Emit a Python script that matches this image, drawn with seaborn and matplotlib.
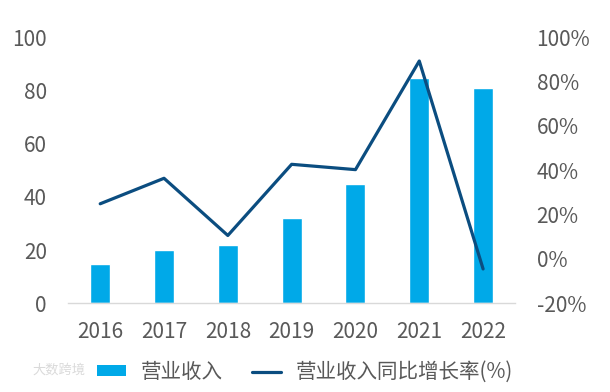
import numpy as np
import pandas as pd
import matplotlib
matplotlib.use("Agg")
import matplotlib.pyplot as plt
import seaborn as sns
from matplotlib.patches import Patch
from matplotlib.lines import Line2D

years = ["2016", "2017", "2018", "2019", "2020", "2021", "2022"]
revenue = [14.6, 20.2, 22.0, 31.9, 44.7, 84.7, 80.9]
growth = [24.9, 36.4, 10.6, 42.7, 40.3, 89.3, -4.5]
left_ticks = [0, 20, 40, 60, 80, 100]
right_ticks = [-20, 0, 20, 40, 60, 80, 100]
bar_label = "营业收入"
line_label = "营业收入同比增长率(%)"

sns.set_theme(style="white")
plt.rcParams["font.family"] = ["Noto Sans CJK SC", "DejaVu Sans"]

BAR_C = "#00A9E8"
LINE_C = "#0B4D80"
TXT_C = "#595959"

df = pd.DataFrame({"year": years, "revenue": revenue, "growth": growth})
df["pos"] = np.arange(len(df))

W, H = 610, 392
fig = plt.figure(figsize=(W / 100, H / 100), dpi=100)
ax = fig.add_axes([68.3 / W, 1 - 303.3 / H, (515 - 68.3) / W, 266 / H])
sns.barplot(data=df, x="year", y="revenue", color=BAR_C, width=0.313,
            saturation=1, ax=ax)
ax.set_xlim(-0.5, len(years) - 0.5)
ax.set_ylim(0, 100)
ax.set_yticks(left_ticks)
ax.set_xlabel("")
ax.set_ylabel("")

ax2 = ax.twinx()
sns.lineplot(data=df, x="pos", y="growth", color=LINE_C, linewidth=2.3, ax=ax2)
ax2.set_ylim(-20, 100)
ax2.set_yticks(right_ticks)
ax2.set_yticklabels([f"{t}%" for t in right_ticks])
ax2.set_xlim(-0.5, len(years) - 0.5)
ax2.set_xlabel("")
ax2.set_ylabel("")

for a in (ax, ax2):
    for s in a.spines.values():
        s.set_visible(False)
    a.tick_params(length=0, labelsize=15, labelcolor=TXT_C)
    a.grid(False)
ax.spines["bottom"].set_visible(True)
ax.spines["bottom"].set_color("#D9D9D9")
ax.spines["bottom"].set_linewidth(1.0)
ax.tick_params(axis="y", pad=15.5)
ax.tick_params(axis="x", pad=13)
ax2.tick_params(axis="y", pad=15.5)

handles = [Patch(facecolor=BAR_C, edgecolor="none"),
           Line2D([0], [0], color=LINE_C, linewidth=2.3)]
fig.legend(handles, [bar_label, line_label], loc="center", ncol=2,
           bbox_to_anchor=(0.5, 1 - 372 / H), frameon=False, fontsize=14.8,
           labelcolor=TXT_C, handlelength=1.4, handleheight=0.45,
           columnspacing=1.4, handletextpad=0.75, borderaxespad=0, borderpad=0)

fig.text(32 / W, 1 - 370 / H, "大数跨境", fontsize=9.5, color="#DADADA",
         ha="left", va="center")

fig.savefig("out.png", dpi=100)
